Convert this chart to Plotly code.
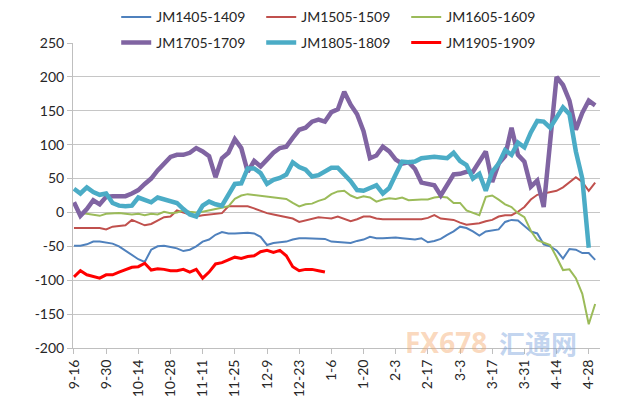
import plotly.graph_objects as go

# trading-day index (every 2nd day sampled)
days = list(range(0, 163, 2))

tick_days = [0, 10, 20, 30, 40, 50, 60, 70, 80, 90, 100, 110, 120, 130, 140, 150, 160]
tick_labels = ["9-16", "9-30", "10-14", "10-28", "11-11", "11-25", "12-9", "12-23",
               "1-6", "1-20", "2-3", "2-17", "3-3", "3-17", "3-31", "4-14", "4-28"]

y_ticks = [-200, -150, -100, -50, 0, 50, 100, 150, 200, 250]

jm1405 = [-49, -49, -47, -43, -43, -44, -46, -50, -56, -63,
          -69, -73, -55, -50, -49, -51, -53, -57, -55, -50,
          -43, -40, -33, -29, -31, -31, -30, -30, -31, -36,
          -48, -45, -44, -43, -40, -38, -38, -38, -38, -39,
          -43, -44, -45, -45, -42, -40, -36, -38, -38, -37,
          -37, -38, -39, -40, -38, -44, -42, -39, -33, -28,
          -21, -23, -28, -34, -28, -26, -25, -14, -11, -12,
          -20, -28, -31, -47, -50, -56, -68, -54, -55, -60,
          -60, -70]

jm1505 = [-23, -23, -23, -22, -23, -25, -21, -20, -19, -11,
          -15, -19, -17, -12, -7, -6, 3, 0, -3, -6,
          -4, -3, -2, -1, 9, 9, 10, 9, 6, 2,
          -1, -3, -5, -7, -9, -14, -12, -10, -7, -8,
          -9, -6, -9, -13, -10, -6, -6, -9, -10, -10,
          -10, -11, -11, -10, -10, -8, -4, -9, -10, -11,
          -15, -18, -17, -16, -13, -11, -6, -4, -4, 1,
          8, 19, 26, 28, 31, 32, 37, 44, 52, 45,
          32, 44]

jm1605 = [14, -1, -2, -3, -5, -2, -1, -1, -2, -3,
          -2, -4, -2, -3, 1, -1, 0, 3, 1, 0,
          1, 3, 4, 6, 9, 20, 25, 27, 26, 24,
          24, 23, 22, 20, 14, 9, 12, 13, 17, 20,
          27, 31, 32, 25, 21, 24, 22, 16, 19, 21,
          20, 22, 18, 19, 19, 19, 22, 23, 22, 14,
          14, 3, 0, -4, 23, 25, 19, 12, 8, -1,
          -7, -27, -41, -45, -48, -66, -85, -84, -97, -120,
          -165, -135]

jm1705 = [15, -5, 5, 18, 12, 23, 24, 24, 24, 28,
          33, 42, 50, 62, 72, 82, 85, 85, 88, 95,
          90, 83, 52, 80, 88, 108, 95, 60, 76, 68,
          78, 88, 95, 97, 110, 122, 125, 134, 137, 134,
          148, 152, 178, 159, 145, 120, 80, 84, 97, 90,
          78, 72, 74, 64, 44, 42, 40, 25, 40, 56,
          57, 60, 60, 76, 90, 45, 72, 83, 125, 85,
          75, 38, 47, 8, 108, 200, 188, 165, 122, 147,
          165, 158]

jm1805 = [35, 28, 37, 30, 26, 28, 14, 10, 9, 10,
          22, 18, 15, 22, 19, 16, 14, 5, -3, -6,
          10, 16, 12, 10, 25, 42, 43, 65, 65, 58,
          42, 48, 51, 56, 74, 67, 63, 53, 55, 60,
          66, 66, 56, 46, 33, 32, 36, 40, 28, 36,
          56, 75, 74, 75, 80, 81, 82, 81, 80, 88,
          76, 70, 50, 57, 32, 60, 72, 92, 85, 103,
          96, 118, 135, 134, 125, 140, 155, 145, 90, 50,
          -52, None]

jm1905 = [-95, -86, -92, -94, -97, -92, -92, -88, -84, -81,
          -80, -75, -85, -83, -84, -86, -86, -84, -88, -84,
          -97, -88, -76, -74, -70, -66, -68, -65, -64, -58,
          -56, -59, -56, -64, -80, -86, -84, -84, -86, -88] + [None] * 42

series = [
    ("JM1405-1409", jm1405, "#4F81BD", 2, "legend"),
    ("JM1505-1509", jm1505, "#C0504D", 2, "legend"),
    ("JM1605-1609", jm1605, "#9BBB59", 2, "legend"),
    ("JM1705-1709", jm1705, "#8064A2", 4.5, "legend2"),
    ("JM1805-1809", jm1805, "#4BACC6", 4.5, "legend2"),
    ("JM1905-1909", jm1905, "#FF0000", 3, "legend2"),
]

fig = go.Figure()
for name, vals, color, width, leg in series:
    fig.add_trace(go.Scatter(
        x=days, y=vals, name=name, mode="lines",
        line=dict(color=color, width=width),
        connectgaps=False, legend=leg,
    ))

font_family = "Lato, 'Open Sans', sans-serif"
text_color = "#262626"
legend_common = dict(
    orientation="h", x=0.082, xanchor="left",
    entrywidth=100, entrywidthmode="pixels",
    font=dict(family=font_family, size=14, color=text_color),
    bgcolor="rgba(0,0,0,0)", itemwidth=30,
)

# the page body adds an 8px offset, so the figure is 8px smaller each way
fig.update_layout(
    width=632, height=392,
    margin=dict(l=65, r=40, t=35, b=52, autoexpand=False),
    paper_bgcolor="white", plot_bgcolor="white",
    font=dict(family=font_family, size=14, color=text_color),
    showlegend=True,
    legend=dict(y=1.084, yanchor="middle", **legend_common),
    legend2=dict(y=1.0, yanchor="middle", **legend_common),
    xaxis=dict(
        range=[-0.3, 163.5],
        tickmode="array", tickvals=tick_days, ticktext=tick_labels,
        tickangle=-90, showgrid=False, zeroline=False,
        showline=True, linecolor="#BFBFBF", linewidth=1,
        ticks="outside", ticklen=5, tickcolor="#BFBFBF",
        tickfont=dict(family=font_family, size=14, color=text_color),
    ),
    yaxis=dict(
        range=[-200, 250],
        tickmode="array", tickvals=y_ticks, ticktext=[str(v) for v in y_ticks],
        showgrid=True, gridcolor="#C6C6C6", gridwidth=1, zeroline=False,
        showline=True, linecolor="#BFBFBF", linewidth=1,
        ticks="outside", ticklen=5, tickcolor="#BFBFBF",
        tickfont=dict(family=font_family, size=14, color=text_color),
    ),
)

# faint watermark
fig.add_annotation(xref="paper", yref="paper", x=0.79, y=-0.05, text="<b>FX678</b>",
                   showarrow=False, font=dict(family="Noto Sans", size=28, color="rgba(245,170,110,0.45)"))
fig.add_annotation(xref="paper", yref="paper", x=0.96, y=-0.05, text="<b>汇通网</b>",
                   showarrow=False, font=dict(family="Noto Sans CJK SC", size=26, color="rgba(120,160,220,0.45)"))

fig.write_html("out.html")
